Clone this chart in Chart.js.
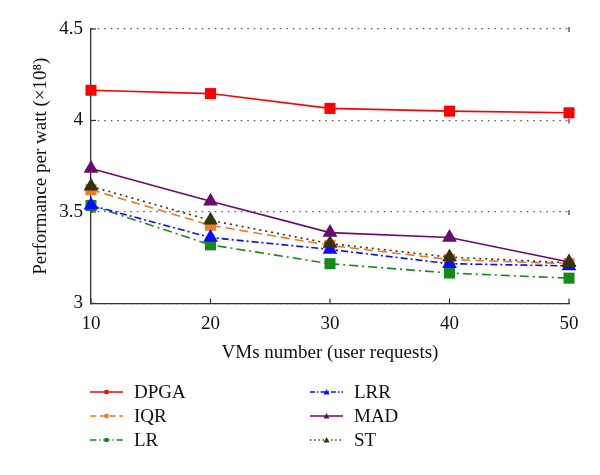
<!DOCTYPE html>
<html>
<head>
<meta charset="utf-8">
<script src="https://cdn.jsdelivr.net/npm/chart.js@4"></script>
<style>
  html, body { margin: 0; padding: 0; background: #fff; }
  #wrap { width: 600px; height: 475px; position: relative; }
</style>
</head>
<body>
<div id="wrap"><canvas id="c"></canvas></div>
<script>
// data
const vms = [10, 20, 30, 40, 50]
const dpga = [4.165, 4.147, 4.066, 4.051, 4.042]
const iqr = [3.622, 3.427, 3.317, 3.240, 3.217]
const lr = [3.535, 3.320, 3.217, 3.166, 3.138]
const lrr = [3.536, 3.360, 3.295, 3.217, 3.205]
const mad = [3.737, 3.558, 3.387, 3.360, 3.226]
const st = [3.640, 3.454, 3.327, 3.253, 3.222]
const yTicks = [3, 3.5, 4, 4.5]

const FONT = "'Liberation Serif', 'DejaVu Serif', serif"
const FSIZE = 19

function pts(arr){
    let r = []
    for (let i = 0; i < vms.length; i++){ r.push({x: vms[i], y: arr[i]}) }
    return r
}

function ds(label, arr, color, dash, marker, size){
    return {
        label: label,
        data: pts(arr),
        borderColor: color,
        backgroundColor: color,
        borderWidth: 1.6,
        borderDash: dash,
        pointStyle: marker,
        pointRadius: size,
        pointHoverRadius: size,
        pointBorderWidth: 0,
        tension: 0,
        clip: false
    }
}

const datasets = [
    ds("DPGA", dpga, "#ff0000", [], "rect", 7.8),
    ds("IQR", iqr, "#f27a24", [9, 5], "rect", 7.8),
    ds("LR", lr, "#168a16", [9, 4, 2, 4], "rect", 7.8),
    ds("LRR", lrr, "#0a0aff", [7, 3, 2, 3], "triangle", 8.5),
    ds("MAD", mad, "#6a0a6e", [], "triangle", 8.5),
    ds("ST", st, "#35330f", [2, 4], "triangle", 8.5)
]
// later series sit on top, like the original
datasets.forEach((d, i) => { d.order = datasets.length - i })

const extras = {
    id: "extras",
    afterDraw(chart){
        const ctx = chart.ctx
        const a = chart.chartArea
        const xs = chart.scales.x, ys = chart.scales.y
        ctx.save()
        ctx.strokeStyle = "#333"
        ctx.lineWidth = 1.2
        ctx.setLineDash([])
        // inward ticks
        for (let v of vms){
            let px = xs.getPixelForValue(v)
            ctx.beginPath(); ctx.moveTo(px, a.bottom); ctx.lineTo(px, a.bottom - 5); ctx.stroke()
        }
        for (let v of yTicks){
            let py = ys.getPixelForValue(v)
            ctx.beginPath(); ctx.moveTo(a.left, py); ctx.lineTo(a.left + 5, py); ctx.stroke()
            if (v > 3){
                ctx.beginPath(); ctx.moveTo(a.right, py - 2); ctx.lineTo(a.right, py + 3); ctx.stroke()
            }
        }
        // legend in two columns
        const cols = [[0, 1, 2], [3, 4, 5]]
        const colX = [90, 310]
        const rowY = [392, 416, 440]
        ctx.font = FSIZE + "px " + FONT
        ctx.textBaseline = "middle"
        cols.forEach((col, ci) => {
            col.forEach((di, ri) => {
                const d = chart.data.datasets[di]
                const x0 = colX[ci], y0 = rowY[ri]
                ctx.strokeStyle = d.borderColor
                ctx.lineWidth = 1.6
                ctx.setLineDash(d.borderDash.length ? d.borderDash.map(n => n * 0.7) : [])
                ctx.beginPath(); ctx.moveTo(x0, y0); ctx.lineTo(x0 + 33, y0); ctx.stroke()
                ctx.setLineDash([])
                ctx.fillStyle = d.borderColor
                if (d.pointStyle === "rect"){
                    ctx.fillRect(x0 + 14.5, y0 - 2, 4, 4)
                } else {
                    ctx.beginPath()
                    ctx.moveTo(x0 + 16.5, y0 - 3); ctx.lineTo(x0 + 19.5, y0 + 2.5); ctx.lineTo(x0 + 13.5, y0 + 2.5)
                    ctx.closePath(); ctx.fill()
                }
                ctx.fillStyle = "#111"
                ctx.fillText(d.label, x0 + 44, y0 + 1)
            })
        })
        ctx.restore()
    }
}

const chart = new Chart(document.getElementById("c").getContext("2d"), {
    type: "line",
    data: { datasets: datasets },
    options: {
        responsive: true,
        maintainAspectRatio: false,
        animation: false,
        layout: { padding: { top: 29, right: 31, bottom: 111, left: 30 } },
        plugins: { legend: { display: false }, tooltip: { enabled: false } },
        scales: {
            x: {
                type: "linear",
                min: 10, max: 50,
                ticks: { stepSize: 10, color: "#111", font: { family: FONT, size: FSIZE }, padding: 9 },
                grid: { color: "rgba(0,0,0,0)", drawTicks: false },
                border: { color: "#333", width: 1.3 },
                title: { display: true, text: "VMs number (user requests)", color: "#111", font: { family: FONT, size: FSIZE }, padding: { top: -3, bottom: 0 } }
            },
            y: {
                min: 3, max: 4.5,
                afterFit: s => { s.width = 61 },
                ticks: { stepSize: 0.5, color: "#111", font: { family: FONT, size: FSIZE }, padding: 8,
                    callback: v => String(Number(v.toFixed(1))) },
                grid: { color: "#555", lineWidth: 1.2, drawTicks: false },
                border: { color: "#333", width: 1.3, dash: [1.5, 5] },
                title: { display: true, text: "Performance per watt (×10⁸)", color: "#111", font: { family: FONT, size: FSIZE }, padding: { top: 0, bottom: 6 } }
            }
        }
    },
    plugins: [extras]
})
</script>
</body>
</html>
